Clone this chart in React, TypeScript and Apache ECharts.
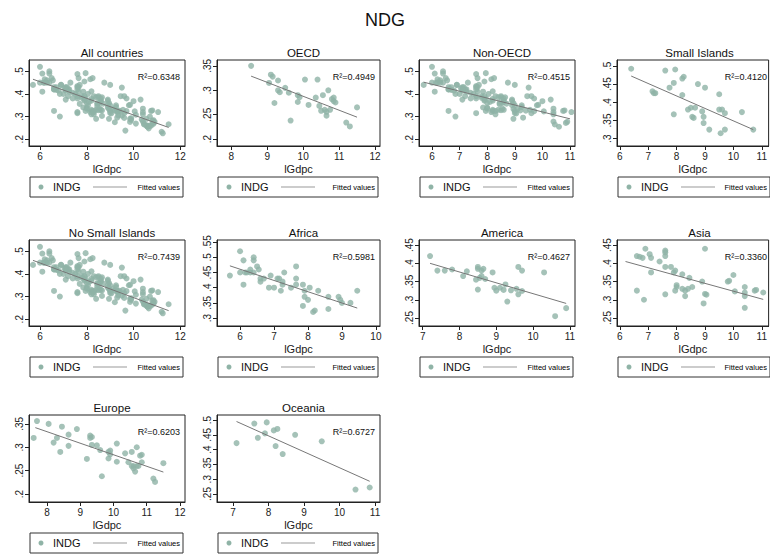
import React, { useEffect, useRef } from 'react';
import * as echarts from 'echarts';

type P = [number, number];

const africa: P[] = [[5.7,.44],[6.0,.52],[6.0,.45],[6.1,.49],[6.1,.41],[6.15,.45],[6.2,.45],[6.3,.45],[6.3,.46],[6.4,.50],[6.4,.49],[6.4,.45],[6.5,.47],[6.55,.46],[6.6,.42],[6.6,.43],[6.7,.43],[6.85,.40],[6.9,.44],[7.0,.40],[7.1,.43],[7.15,.43],[7.2,.39],[7.25,.41],[7.3,.45],[7.25,.42],[7.5,.40],[7.65,.47],[7.65,.43],[7.65,.41],[7.85,.41],[7.9,.39],[7.9,.37],[7.85,.34],[8.0,.36],[8.05,.40],[8.15,.32],[8.2,.325],[8.3,.39],[8.6,.37],[8.6,.33],[8.9,.37],[8.95,.36],[9.0,.35],[9.25,.35],[9.45,.39]];
const america: P[] = [[7.2,.42],[7.4,.38],[7.6,.38],[7.8,.383],[8.1,.365],[8.2,.378],[8.5,.39],[8.5,.385],[8.55,.36],[8.5,.328],[8.6,.365],[8.6,.38],[8.65,.385],[8.7,.357],[8.9,.375],[8.95,.333],[9.0,.325],[9.1,.333],[9.2,.327],[9.25,.342],[9.3,.295],[9.4,.326],[9.55,.33],[9.6,.315],[9.6,.39],[9.7,.38],[9.7,.324],[10.3,.375],[10.6,.255],[10.9,.277],[8.45,.355]];
const asia: P[] = [[6.2,.465],[6.6,.42],[6.6,.325],[6.7,.418],[6.8,.415],[6.85,.30],[6.9,.44],[7.05,.425],[7.1,.415],[7.1,.375],[7.4,.405],[7.6,.435],[7.6,.43],[7.6,.42],[7.6,.39],[7.6,.315],[7.8,.39],[7.9,.375],[7.95,.38],[7.95,.325],[8.0,.335],[8.0,.34],[8.2,.37],[8.2,.33],[8.3,.31],[8.3,.325],[8.4,.33],[8.45,.36],[8.55,.335],[8.9,.35],[8.95,.29],[9.0,.44],[9.0,.316],[9.05,.314],[9.8,.35],[9.85,.352],[10.0,.368],[10.05,.323],[10.4,.335],[10.4,.32],[10.4,.31],[10.4,.278],[10.75,.325],[10.8,.327],[11.05,.32]];
const europe: P[] = [[7.6,.32],[7.7,.356],[8.05,.35],[8.2,.31],[8.3,.32],[8.4,.29],[8.45,.344],[8.65,.327],[8.65,.303],[8.9,.339],[9.2,.275],[9.3,.32],[9.3,.325],[9.35,.322],[9.35,.305],[9.5,.304],[9.6,.294],[9.65,.238],[9.85,.29],[9.85,.276],[9.9,.293],[9.9,.285],[10.1,.308],[10.1,.269],[10.35,.287],[10.45,.268],[10.55,.29],[10.55,.26],[10.6,.26],[10.6,.255],[10.65,.248],[10.7,.30],[10.7,.26],[10.75,.26],[10.8,.282],[10.85,.284],[10.85,.268],[11.2,.233],[11.25,.226],[11.5,.266]];
const oceania: P[] = [[7.1,.422],[7.6,.488],[7.7,.44],[7.9,.455],[7.95,.492],[8.15,.465],[8.2,.412],[8.25,.47],[8.4,.385],[8.75,.45],[9.5,.428],[10.45,.265],[10.85,.272]];
const oecd: P[] = [[8.55,.35],[9.05,.315],[9.1,.332],[9.15,.328],[9.2,.274],[9.3,.32],[9.3,.30],[9.35,.296],[9.5,.305],[9.6,.295],[9.65,.238],[9.85,.29],[9.85,.276],[9.9,.286],[10.05,.322],[10.15,.27],[10.35,.285],[10.4,.322],[10.45,.268],[10.5,.258],[10.55,.29],[10.6,.26],[10.65,.248],[10.65,.256],[10.7,.30],[10.75,.26],[10.8,.282],[10.85,.278],[10.85,.285],[10.9,.275],[11.2,.234],[11.3,.226],[11.5,.265]];
const smallIslands: P[] = [[6.4,.492],[7.15,.43],[7.2,.425],[7.25,.425],[7.6,.487],[7.75,.44],[7.9,.453],[7.9,.367],[7.95,.49],[8.2,.465],[8.2,.42],[8.25,.47],[8.4,.38],[8.5,.385],[8.55,.36],[8.6,.357],[8.65,.385],[8.75,.45],[8.9,.375],[8.95,.343],[8.95,.36],[9.0,.44],[9.15,.325],[9.5,.38],[9.5,.422],[9.55,.315],[9.6,.38],[9.7,.37],[9.7,.325],[10.3,.373],[10.7,.325]];
const allCountries: P[] = [...africa, ...america, ...asia, ...europe, ...oceania];
const nonOecd: P[] = [...africa, ...america, ...asia, ...oceania];

const titles = ['All countries', 'OECD', 'Non-OECD', 'Small Islands', 'No Small Islands', 'Africa', 'America', 'Asia', 'Europe', 'Oceania'];
const points = [allCountries, oecd, nonOecd, smallIslands, allCountries, africa, america, asia, europe, oceania];
const fits: [P, P][] = [
  [[5.7,.465],[11.5,.252]], [[8.55,.329],[11.5,.245]], [[5.7,.452],[11.0,.29]], [[6.4,.472],[10.7,.325]],
  [[5.7,.46],[11.5,.238]], [[5.7,.472],[9.45,.333]], [[7.2,.40],[10.9,.29]], [[6.2,.405],[11.05,.301]],
  [[7.65,.342],[11.5,.247]], [[7.1,.495],[10.85,.293]],
];
const r2 = ['0.6348', '0.4949', '0.4515', '0.4120', '0.7439', '0.5981', '0.4627', '0.3360', '0.6203', '0.6727'];
const xRanges: P[] = [[5.53,12.2],[7.6,12.14],[5.53,11.18],[5.9,11.24],[5.53,12.2],[5.32,10.12],[6.9,11.14],[5.9,11.24],[7.46,12.15],[6.55,11.14]];
const yRanges: P[] = [[.17,.55],[.186,.362],[.17,.55],[.28,.516],[.17,.55],[.274,.557],[.228,.464],[.228,.464],[.183,.369],[.223,.517]];
const xTicks = [[6,8,10,12],[8,9,10,11,12],[6,7,8,9,10,11],[6,7,8,9,10,11],[6,8,10,12],[6,7,8,9,10],[7,8,9,10,11],[6,7,8,9,10,11],[8,9,10,11,12],[7,8,9,10,11]];
const yTicks = [[.2,.3,.4,.5],[.2,.25,.3,.35],[.2,.3,.4,.5],[.3,.35,.4,.45,.5],[.2,.3,.4,.5],[.3,.35,.4,.45,.5,.55],[.25,.3,.35,.4,.45],[.25,.3,.35,.4,.45],[.2,.25,.3,.35],[.25,.3,.35,.4,.45,.5]];

const colLeft = [29, 217, 419, 617];
const colWidth = [156, 163, 156, 155];
const rowTop = [60, 240, 415];
const rowHeight = [86, 86, 87];
const dot = '#8fb3a6';

const fmt = (v: number) => String(+v.toFixed(2)).replace(/^0/, '');

const App: React.FC = () => {
  const ref = useRef<HTMLDivElement | null>(null);

  useEffect(() => {
    if (!ref.current) return;
    const chart = echarts.init(ref.current, null, { renderer: 'svg' });
    const grid: any[] = [], xAxis: any[] = [], yAxis: any[] = [], series: any[] = [], graphic: any[] = [];
    const title: any[] = [{ text: 'NDG', left: 'center', top: 6, textStyle: { fontSize: 18, fontWeight: 'normal', color: '#111', fontFamily: 'Liberation Sans' } }];

    titles.forEach((t, i) => {
      const c = i % 4, r = Math.floor(i / 4);
      const left = colLeft[c], top = rowTop[r], w = colWidth[c], h = rowHeight[r];
      grid.push({ left, top, width: w, height: h, show: true, borderColor: '#222', borderWidth: 1, backgroundColor: '#fff' });
      xAxis.push({
        type: 'value', gridIndex: i, min: xRanges[i][0], max: xRanges[i][1],
        name: 'lGdpc', nameLocation: 'middle', nameGap: 17, nameTextStyle: { fontSize: 11, color: '#222' },
        axisLine: { show: true, onZero: false, lineStyle: { color: '#222' } },
        axisTick: { show: true, length: 4, customValues: xTicks[i], lineStyle: { color: '#222' } },
        axisLabel: { customValues: xTicks[i], fontSize: 10, color: '#222', margin: 5 },
        splitLine: { show: false },
      });
      yAxis.push({
        type: 'value', gridIndex: i, min: yRanges[i][0], max: yRanges[i][1],
        axisLine: { show: true, onZero: false, lineStyle: { color: '#222' } },
        axisTick: { show: true, length: 4, customValues: yTicks[i], lineStyle: { color: '#222' } },
        axisLabel: { customValues: yTicks[i], fontSize: 10, color: '#222', rotate: 90, margin: 5, formatter: fmt },
        splitLine: { show: false },
      });
      series.push({ type: 'scatter', xAxisIndex: i, yAxisIndex: i, data: points[i], symbolSize: 6, itemStyle: { color: dot }, silent: true });
      series.push({ type: 'line', xAxisIndex: i, yAxisIndex: i, data: fits[i], symbol: 'none', lineStyle: { color: '#777', width: 1 }, silent: true });
      title.push({ text: t, left: left + w / 2, top: top - 18, textAlign: 'center', textStyle: { fontSize: 11.5, fontWeight: 'normal', color: '#111' } });
      graphic.push({ type: 'text', x: left + w - 5, y: top + 12, style: { text: 'R²=' + r2[i], fontSize: 9, fill: '#111', align: 'right' } });
      const ly = top + h + 31;
      graphic.push({ type: 'rect', shape: { x: left + 1, y: ly, width: w - 3, height: 20 }, style: { fill: '#fff', stroke: '#333', lineWidth: 1 } });
      graphic.push({ type: 'circle', shape: { cx: left + 12, cy: ly + 10, r: 2.5 }, style: { fill: dot } });
      graphic.push({ type: 'text', x: left + 24, y: ly + 4, style: { text: 'INDG', fontSize: 11, fill: '#111' } });
      graphic.push({ type: 'line', shape: { x1: left + 64, y1: ly + 10, x2: left + 98, y2: ly + 10 }, style: { stroke: '#999', lineWidth: 1 } });
      graphic.push({ type: 'text', x: left + w - 5, y: ly + 6, style: { text: 'Fitted values', fontSize: 7.5, fill: '#000', align: 'right' } });
    });

    chart.setOption({
      animation: false, backgroundColor: '#fff',
      textStyle: { fontFamily: 'Liberation Sans' },
      title, grid, xAxis, yAxis, series, graphic,
    });
    return () => chart.dispose();
  }, []);

  return <div ref={ref} style={{ position: 'absolute', left: 0, top: 0, width: 770, height: 557 }} />;
};

export default App;
